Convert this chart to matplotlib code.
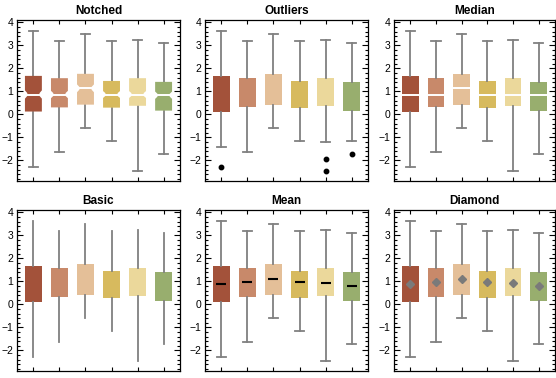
import numpy as np
import matplotlib
matplotlib.use("Agg")
import matplotlib.pyplot as plt
from matplotlib.ticker import AutoMinorLocator

plt.rcParams['font.family'] = ['Liberation Sans', 'DejaVu Sans']

# values
titles = ["Notched", "Outliers", "Median", "Basic", "Mean", "Diamond"]
colors = ["#a3523a", "#c8896a", "#e4bf98", "#d7ba5e", "#ebd89b", "#98ae6e"]
q1 = [0.12, 0.30, 0.42, 0.29, 0.37, 0.16]
q3 = [1.67, 1.57, 1.76, 1.45, 1.57, 1.41]
med = [0.86, 0.86, 1.13, 0.86, 0.86, 0.83]
mean = [0.90, 0.96, 1.09, 0.96, 0.92, 0.81]
lo = [-2.29, -1.66, -0.61, -1.18, -2.47, -1.72]
hi = [3.64, 3.17, 3.49, 3.17, 3.21, 3.10]
fence_lo = [-1.44, -1.66, -0.61, -1.18, -1.22, -1.18]
outliers = [[-2.29], [], [], [], [-1.93, -2.47], [-1.72]]
notch_half = [0.18, 0.16, 0.17, 0.15, 0.15, 0.16]

pos = np.arange(1, 7)
W, H = 556, 378
fig = plt.figure(figsize=(W / 100, H / 100), dpi=100)

# axes boxes in pixels: left, top, right, bottom
rects = [(17, 20, 180, 181), (205, 20, 368, 181), (394, 20, 555, 181),
         (17, 210, 180, 371), (205, 210, 368, 371), (394, 210, 555, 371)]

gray = "#808080"
bw = 0.65
capw = 0.36


def stats(fliers=False):
    out = []
    for i in range(6):
        d = dict(med=med[i], q1=q1[i], q3=q3[i], mean=mean[i],
                 whislo=lo[i], whishi=hi[i], fliers=[])
        if fliers:
            d['whislo'] = fence_lo[i]
            d['fliers'] = outliers[i]
        out.append(d)
    return out


for k, (l, t, r, b) in enumerate(rects):
    ax = fig.add_axes([l / W, 1 - b / H, (r - l) / W, (b - t) / H])
    name = titles[k]
    kw = dict(positions=pos, widths=bw, capwidths=capw, patch_artist=True,
              showcaps=(name != "Basic"),
              boxprops=dict(linewidth=0),
              whiskerprops=dict(color=gray, linewidth=1.3),
              capprops=dict(color=gray, linewidth=1.3),
              medianprops=dict(linewidth=0),
              flierprops=dict(marker='o', markerfacecolor='black',
                              markeredgecolor='black', markersize=3.2))
    if name == "Median":
        kw['medianprops'] = dict(color='white', linewidth=1.4)
    if name == "Mean":
        kw['showmeans'] = True
        kw['meanprops'] = dict(marker='_', markeredgecolor='black',
                               markersize=6.5, markeredgewidth=1.5)
    if name == "Diamond":
        kw['showmeans'] = True
        kw['meanprops'] = dict(marker='D', markerfacecolor='#7a7a7a',
                               markeredgecolor='#7a7a7a', markersize=4.2)
    if name == "Notched":
        kw['showbox'] = False
    res = ax.bxp(stats(fliers=(name == "Outliers")), **kw)
    if name != "Notched":
        for patch, c in zip(res['boxes'], colors):
            patch.set_facecolor(c)
    else:
        ins = bw * 0.14
        for i in range(6):
            L, R = pos[i] - bw / 2, pos[i] + bw / 2
            m, h = med[i], notch_half[i]
            xs = [L, R, R, R - ins, R - ins, R, R, L, L, L + ins, L + ins, L]
            ys = [q1[i], q1[i], m - h, m - 0.06, m + 0.06, m + h, q3[i],
                  q3[i], m + h, m + 0.06, m - 0.06, m - h]
            ax.fill(xs, ys, color=colors[i], linewidth=0, zorder=2)
            ax.plot([L + ins, R - ins], [m, m], color='white', lw=1.4, zorder=3)

    ax.set_xlim(0.37, 6.63)
    ax.set_ylim(-2.9, 4.1)
    ax.set_xticks(pos)
    ax.set_xticklabels([])
    ax.set_yticks([-2, -1, 0, 1, 2, 3, 4])
    ax.set_yticklabels(["\u22122", "\u22121", "0", "1", "2", "3", "4"])
    ax.yaxis.set_minor_locator(AutoMinorLocator(5))
    ax.tick_params(which='both', direction='in', left=True, right=True,
                   top=True, bottom=True, width=0.8, labelsize=7.5, pad=2.5)
    ax.tick_params(axis='y', which='major', length=4)
    ax.tick_params(axis='y', which='minor', length=2)
    ax.tick_params(axis='x', which='major', length=3)
    for s in ax.spines.values():
        s.set_linewidth(0.9)
    ax.set_title(name, fontsize=8.5, fontweight='bold', pad=4)

fig.savefig("out.png", dpi=100)
